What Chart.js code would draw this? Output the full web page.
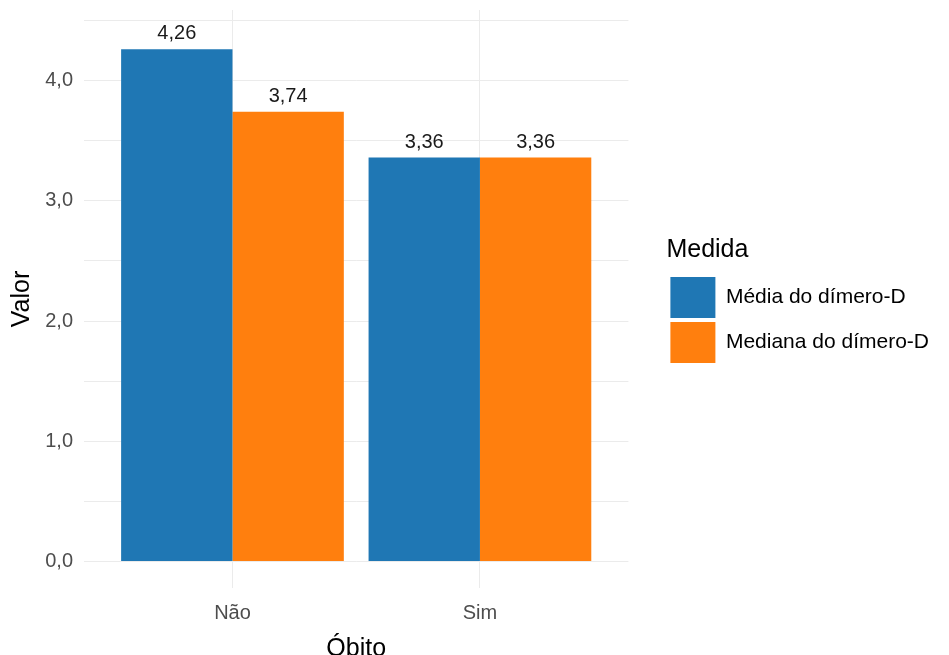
<!DOCTYPE html>
<html>
<head>
<meta charset="utf-8">
<script src="https://cdn.jsdelivr.net/npm/chart.js@4.4.1/dist/chart.umd.min.js"></script>
<style>
  html, body { margin: 0; padding: 0; background: #ffffff; }
  #wrap { width: 949px; height: 655px; }
</style>
</head>
<body>
<div id="wrap"><canvas id="c" width="949" height="655"></canvas></div>
<script>
const categories = ['Não', 'Sim'];
const seriesNames = ['Média do dímero-D', 'Mediana do dímero-D'];
const mediaValues = [4.26, 3.36];
const medianaValues = [3.74, 3.36];
const seriesColors = ['#1f77b4', '#ff7f0e'];
const yTickValues = [0, 1, 2, 3, 4];
const yMinorValues = [0.5, 1.5, 2.5, 3.5, 4.5];
const xTitle = 'Óbito';
const yTitle = 'Valor';
const legendTitle = 'Medida';

const FONT = '"Liberation Sans", Arial, sans-serif';
const fmt = (v, d) => v.toFixed(d).replace('.', ',');

function toPoints(values) {
  return values.map((v, i) => ({ x: i + 1, y: v }));
}

const valueLabels = {
  id: 'valueLabels',
  afterDatasetsDraw(chart) {
    const ctx = chart.ctx;
    ctx.save();
    ctx.font = '20px ' + FONT;
    ctx.fillStyle = '#1a1a1a';
    ctx.textAlign = 'center';
    ctx.textBaseline = 'alphabetic';
    chart.data.datasets.forEach((ds, di) => {
      const meta = chart.getDatasetMeta(di);
      meta.data.forEach((bar, i) => {
        ctx.fillText(fmt(ds.data[i].y, 2), bar.x, bar.y - 10);
      });
    });
    ctx.restore();
  }
};

new Chart(document.getElementById('c'), {
  type: 'bar',
  data: {
    datasets: [
      { label: seriesNames[0], data: toPoints(mediaValues), backgroundColor: seriesColors[0], borderWidth: 0, yAxisID: 'y', xAxisID: 'x' },
      { label: seriesNames[1], data: toPoints(medianaValues), backgroundColor: seriesColors[1], borderWidth: 0, yAxisID: 'y', xAxisID: 'x' }
    ]
  },
  options: {
    responsive: false,
    animation: false,
    devicePixelRatio: 1,
    datasets: { bar: { categoryPercentage: 0.9, barPercentage: 1.0 } },
    layout: { padding: { top: 10, right: 10, bottom: 0, left: 0 } },
    plugins: {
      tooltip: { enabled: false },
      legend: {
        position: 'right',
        align: 'start',
        maxWidth: 320,
        title: {
          display: true,
          text: legendTitle,
          position: 'start',
          color: '#000000',
          font: { family: FONT, size: 25, lineHeight: 1.2 },
          padding: { top: 228, bottom: 5 }
        },
        labels: {
          boxWidth: 45,
          boxHeight: 41,
          padding: 4,
          color: '#000000',
          font: { family: FONT, size: 21 }
        }
      }
    },
    scales: {
      x: {
        type: 'linear',
        min: 0.4,
        max: 2.6,
        offset: false,
        grid: { offset: false, color: '#ebebeb', lineWidth: 1, drawTicks: false },
        border: { display: false },
        afterBuildTicks: (s) => { s.ticks = categories.map((c, i) => ({ value: i + 1 })); },
        ticks: {
          color: '#4d4d4d',
          font: { family: FONT, size: 20 },
          padding: 13,
          maxRotation: 0,
          autoSkip: false,
          callback: (v) => categories[Math.round(v) - 1]
        },
        title: {
          display: true,
          text: xTitle,
          color: '#000000',
          font: { family: FONT, size: 25, lineHeight: 0.5 },
          padding: { top: 0, bottom: 0 }
        },
        afterFit: (s) => { s.height = 67; s.paddingLeft = 0; s.paddingRight = 0; }
      },
      y: {
        type: 'linear',
        position: 'left',
        min: -0.22,
        max: 4.587,
        grid: { color: '#ebebeb', lineWidth: 1, drawTicks: false },
        border: { display: false },
        afterBuildTicks: (s) => {
          s.ticks = yTickValues.concat(yMinorValues).sort((a, b) => a - b).map(v => ({ value: v }));
        },
        ticks: {
          color: '#4d4d4d',
          font: { family: FONT, size: 20 },
          padding: 11,
          autoSkip: false,
          callback: (v) => yTickValues.includes(v) ? fmt(v, 1) : ''
        },
        title: {
          display: true,
          text: yTitle,
          color: '#000000',
          font: { family: FONT, size: 25, lineHeight: 1.2 },
          padding: { top: 7, bottom: 0 }
        },
        afterFit: (s) => { s.width = 84; s.paddingTop = 0; s.paddingBottom = 0; }
      },
      gap: {
        type: 'linear',
        position: 'right',
        display: true,
        grid: { display: false, drawTicks: false },
        border: { display: false },
        ticks: { display: false },
        title: { display: false },
        afterFit: (s) => { s.width = 38; s.paddingTop = 0; s.paddingBottom = 0; }
      }
    }
  },
  plugins: [valueLabels]
});
</script>
</body>
</html>
